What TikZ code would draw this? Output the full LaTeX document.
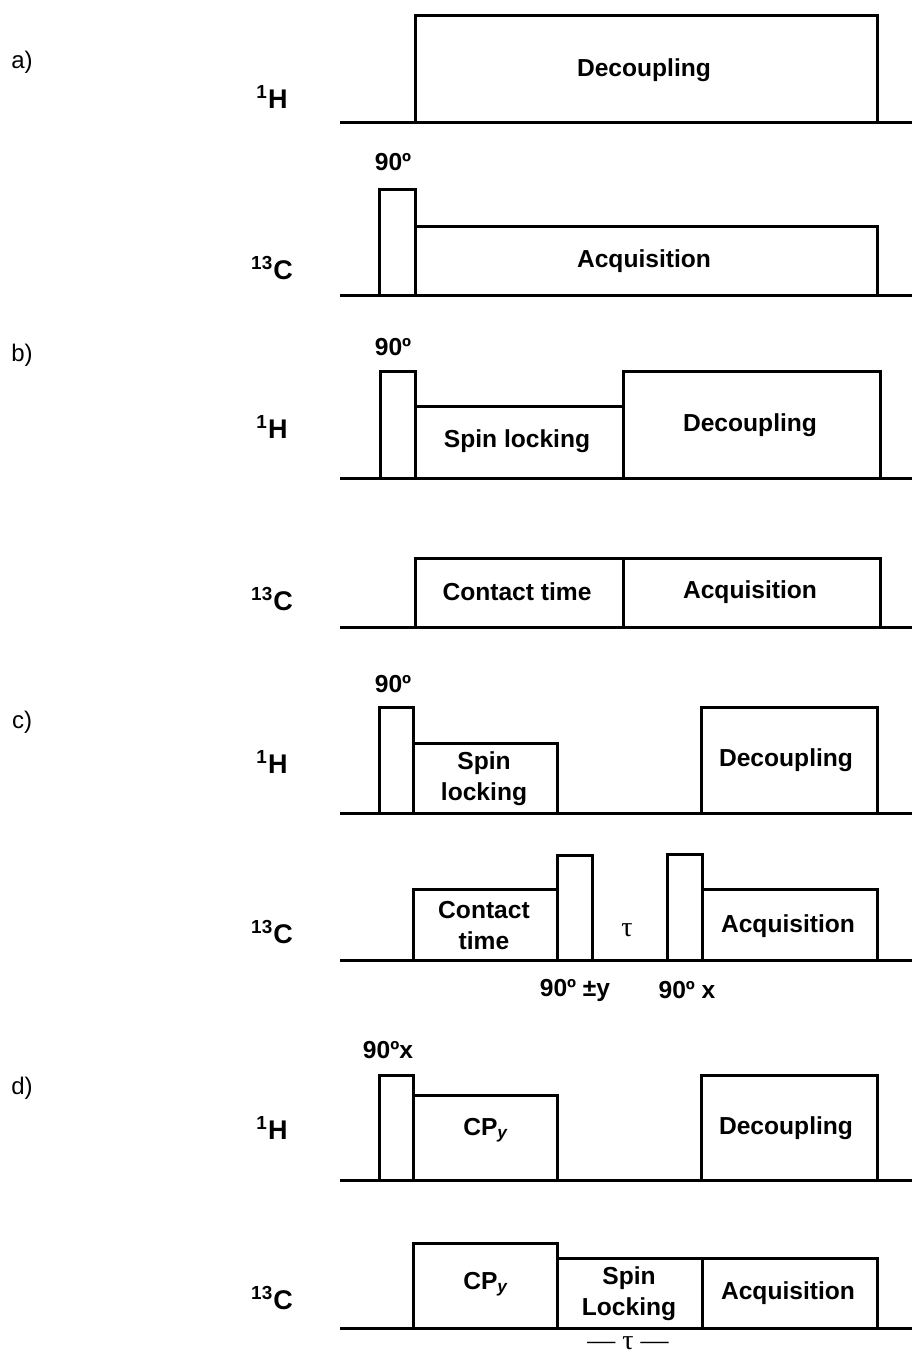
\documentclass[tikz,border=0pt]{standalone}
\usepackage{fontspec}
\setmainfont{Liberation Sans}
\newfontfamily\taufont{Liberation Serif}
\begin{document}
\begin{tikzpicture}[x=0.5pt,y=-0.5pt,
  seq/.style={line width=1.5pt},
  lbl/.style={font=\bfseries\fontsize{12.3}{13.5}\selectfont, align=center, inner sep=0pt},
  nuc/.style={font=\bfseries\fontsize{13.5}{15}\selectfont, inner sep=0pt},
  part/.style={font=\fontsize{12}{14}\selectfont, inner sep=0pt},
  taustyle/.style={font=\taufont\fontsize{14}{16}\selectfont, inner sep=0pt}]
\useasboundingbox (0,0) rectangle (912,1355);
\fill[white] (0,0) rectangle (912,1355);

% part labels
\node[part] (la) at (22,62) {a)};
\node[part] (lb) at (22,355) {b)};
\node[part] (lc) at (22,722) {c)};
\node[part] (ld) at (22,1088) {d)};

% nucleus labels
\node[nuc] (ha) at (272,97) {\textsuperscript{1}H};
\node[nuc] (ca) at (272,268) {\textsuperscript{13}C};
\node[nuc] (hb) at (272,427) {\textsuperscript{1}H};
\node[nuc] (cb) at (272,599) {\textsuperscript{13}C};
\node[nuc] (hc) at (272,762) {\textsuperscript{1}H};
\node[nuc] (cc) at (272,932) {\textsuperscript{13}C};
\node[nuc] (hd) at (272,1128) {\textsuperscript{1}H};
\node[nuc] (cd) at (272,1298) {\textsuperscript{13}C};

% ---------- a) ----------
\draw[seq] (340,122) -- (912,122);
\draw[seq] (415,122) -- (415,15) -- (877,15) -- (877,122);
\node[lbl] (dec1) at (644,70) {Decoupling};
\draw[seq] (340,295) -- (912,295);
\draw[seq] (379,295) -- (379,189) -- (415,189) -- (415,295);
\draw[seq] (415,226) -- (877,226) -- (877,295);
\node[lbl] (p1) at (393,162) {90º};
\node[lbl] (acq1) at (644,261) {Acquisition};

% ---------- b) ----------
\draw[seq] (340,478) -- (912,478);
\draw[seq] (380,478) -- (380,371) -- (415,371) -- (415,478);
\draw[seq] (415,406) -- (623,406) -- (623,478);
\draw[seq] (623,406) -- (623,371) -- (880,371) -- (880,478);
\node[lbl] (p2) at (393,347) {90º};
\node[lbl] (sl2) at (517,441) {Spin locking};
\node[lbl] (dec2) at (750,425) {Decoupling};
\draw[seq] (340,627) -- (912,627);
\draw[seq] (415,627) -- (415,558) -- (880,558) -- (880,627);
\draw[seq] (623,558) -- (623,627);
\node[lbl] (ct2) at (517,592) {Contact time};
\node[lbl] (acq2) at (750,592) {Acquisition};

% ---------- c) ----------
\draw[seq] (340,813) -- (912,813);
\draw[seq] (379,813) -- (379,707) -- (413,707) -- (413,813);
\draw[seq] (413,743) -- (557,743) -- (557,813);
\draw[seq] (701,813) -- (701,707) -- (877,707) -- (877,813);
\node[lbl] (p3) at (393,684) {90º};
\node[lbl] (sl3) at (484,779) {Spin\\[2pt]locking};
\node[lbl] (dec3) at (786,760) {Decoupling};
\draw[seq] (340,960) -- (912,960);
\draw[seq] (413,960) -- (413,889) -- (557,889);
\draw[seq] (557,960) -- (557,855) -- (592,855) -- (592,960);
\draw[seq] (667,960) -- (667,854) -- (702,854) -- (702,960);
\draw[seq] (702,889) -- (877,889) -- (877,960);
\node[lbl] (ct3) at (484,926) {Contact\\[2pt]time};
\node[taustyle] (tau3) at (627,930) {τ};
\node[lbl] (acq3) at (788,926) {Acquisition};
\node[lbl] (py3) at (575,990) {90º ±y};
\node[lbl] (px3) at (687,990) {90º x};

% ---------- d) ----------
\draw[seq] (340,1180) -- (912,1180);
\draw[seq] (379,1180) -- (379,1075) -- (413,1075) -- (413,1180);
\draw[seq] (413,1095) -- (557,1095) -- (557,1180);
\draw[seq] (701,1180) -- (701,1075) -- (877,1075) -- (877,1180);
\node[lbl] (p4) at (388,1050) {90ºx};
\node[lbl] (cp4) at (486,1130) {CP\textsubscript{\textit{y}}};
\node[lbl] (dec4) at (786,1128) {Decoupling};
\draw[seq] (340,1328) -- (912,1328);
\draw[seq] (413,1328) -- (413,1243) -- (557,1243) -- (557,1328);
\draw[seq] (557,1258) -- (877,1258) -- (877,1328);
\draw[seq] (702,1258) -- (702,1328);
\node[lbl] (cp5) at (486,1284) {CP\textsubscript{\textit{y}}};
\node[lbl] (sl5) at (629,1294) {Spin\\[2pt]Locking};
\node[lbl] (acq5) at (788,1293) {Acquisition};
\node[taustyle] (tau5) at (628,1343) {— τ —};
\end{tikzpicture}
\end{document}
